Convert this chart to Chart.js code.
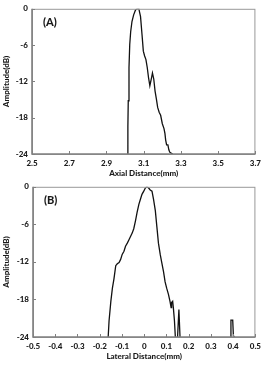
<!DOCTYPE html>
<html>
<head>
<meta charset="utf-8">
<script src="https://cdn.jsdelivr.net/npm/chart.js@4/dist/chart.umd.min.js"></script>
<style>
  body { margin: 0; background: #fff; }
  #wrap { position: relative; width: 266px; height: 372px; }
  canvas { position: absolute; left: 0; }
</style>
</head>
<body>
<div id="wrap">
  <canvas id="chartA" width="266" height="186" style="top:0"></canvas>
  <canvas id="chartB" width="266" height="194" style="top:178px"></canvas>
</div>
<script>
// (A) axial profile
const axialX  = [3.013, 3.015, 3.017, 3.021, 3.025, 3.030, 3.037, 3.046, 3.056, 3.065, 3.074, 3.083, 3.091, 3.098, 3.105, 3.112, 3.119, 3.126, 3.133, 3.142, 3.147, 3.154, 3.161, 3.168, 3.175, 3.183, 3.191, 3.200, 3.209, 3.214, 3.218, 3.223, 3.230, 3.235, 3.240, 3.249, 3.256];
const axialDb = [-24, -19.5, -15.2, -9.7, -5.9, -3.8, -2.1, -1.0, -0.2, 0, 0, -1.3, -4.3, -7.0, -7.8, -8.4, -9.7, -11.4, -12.7, -11.4, -10.6, -11.6, -13.6, -14.9, -16.3, -17.1, -17.6, -19.0, -19.8, -20.6, -21.7, -22.5, -22.5, -23.3, -23.7, -23.9, -24];

// (B) lateral profile (null = break in the trace)
const lateralX  = [-0.162, -0.158, -0.150, -0.143, -0.136, -0.128, -0.121, -0.113, -0.106, -0.099, -0.091, -0.084, -0.076, -0.069, -0.061, -0.054, -0.047, -0.039, -0.032, -0.024, -0.017, -0.010, -0.002, 0.005, 0.012, 0.020, 0.027, 0.035, 0.042, 0.050, 0.057, 0.064, 0.072, 0.079, 0.087, 0.094, 0.101, 0.109, 0.116, 0.121, 0.123, 0.128, 0.131, 0.136, 0.140, 0.145, 0.150, 0.156, 0.161, 0.300, 0.387, 0.390, 0.398, 0.401, 0.405];
const lateralDb = [-24, -21.4, -18.3, -16.2, -14.7, -12.6, -12.3, -12.1, -11.6, -10.8, -10.3, -9.5, -9.0, -8.5, -7.9, -7.4, -6.7, -5.4, -4.1, -2.8, -2.0, -1.2, -0.7, -0.2, 0, -0.2, -0.5, -0.7, -2.0, -3.8, -6.4, -9.0, -10.8, -12.1, -13.6, -15.2, -16.2, -17.2, -18.3, -19.3, -18.5, -18.3, -19.3, -21.4, -24, null, -24, -19.6, -24, null, -24, -21.3, -21.3, -23.8, -24];

const yTicks = [0, -6, -12, -18, -24];
const FONT = 'Lato, "Liberation Sans", sans-serif';
const TEXT = '#1a1a1a';

// box around plot, inward tick marks, panel letter
const framePlugin = {
    id: 'frame',
    afterDraw(chart, args, opts) {
        const {ctx, chartArea: a, scales} = chart;
        ctx.save();
        ctx.strokeStyle = '#999';
        ctx.lineWidth = 1;
        ctx.strokeRect(a.left + 0.5, a.top + 0.5, a.right - a.left - 1, a.bottom - a.top);
        ctx.strokeStyle = '#808080';
        ctx.lineWidth = 1.6;
        ctx.beginPath();
        ctx.moveTo(a.left, a.top);
        ctx.lineTo(a.left, a.bottom);
        ctx.lineTo(a.right, a.bottom);
        ctx.stroke();
        ctx.lineWidth = 1;
        ctx.beginPath();
        scales.x.ticks.forEach(t => {
            const px = Math.round(scales.x.getPixelForValue(t.value)) + 0.5;
            ctx.moveTo(px, a.bottom);
            ctx.lineTo(px, a.bottom - 3);
        });
        scales.y.ticks.forEach(t => {
            const py = Math.round(scales.y.getPixelForValue(t.value)) + 0.5;
            ctx.moveTo(a.left, py);
            ctx.lineTo(a.left + 3, py);
        });
        ctx.stroke();
        ctx.fillStyle = TEXT;
        ctx.font = '900 11px ' + FONT;
        ctx.textBaseline = 'alphabetic';
        ctx.fillText(opts.label, a.left + 11, a.top + 17);
        ctx.restore();
    }
};

function makeChart(id, xs, ys, xMin, xMax, step, xTitle, label, pad, yWidth, xHeight, titlePad) {
    const points = xs.map((x, i) => ({x: x, y: ys[i]}));
    const font = { family: FONT, size: 8, weight: '900' };
    return new Chart(document.getElementById(id), {
        type: 'line',
        data: {
            datasets: [{
                data: points,
                borderColor: '#111',
                borderWidth: 1.3,
                pointRadius: 0,
                tension: 0,
                spanGaps: false
            }]
        },
        options: {
            responsive: false,
            animation: false,
            layout: { padding: pad },
            scales: {
                x: {
                    type: 'linear',
                    min: xMin,
                    max: xMax,
                    grid: { display: false, drawTicks: false },
                    border: { display: false },
                    ticks: {
                        stepSize: step,
                        padding: 5,
                        maxRotation: 0,
                        autoSkip: false,
                        color: TEXT,
                        font: font,
                        callback: v => Math.abs(v) < 1e-9 ? '0' : v.toFixed(1)
                    },
                    title: {
                        display: true,
                        text: xTitle,
                        color: TEXT,
                        padding: { top: 0, bottom: titlePad },
                        font: font
                    },
                    afterFit: s => { s.height = xHeight; }
                },
                y: {
                    min: -24,
                    max: 0,
                    grid: { display: false, drawTicks: false },
                    border: { display: false },
                    afterBuildTicks: s => { s.ticks = yTicks.map(v => ({value: v})); },
                    ticks: {
                        padding: 4,
                        color: TEXT,
                        font: font
                    },
                    title: {
                        display: true,
                        text: 'Amplitude(dB)',
                        color: TEXT,
                        padding: { top: 2, bottom: 0 },
                        font: font
                    },
                    afterFit: s => { s.width = yWidth; }
                }
            },
            plugins: {
                legend: { display: false },
                tooltip: { enabled: false },
                frame: { label: label }
            }
        },
        plugins: [framePlugin]
    });
}

makeChart('chartA', axialX, axialDb, 2.5, 3.7, 0.2, 'Axial Distance(mm)', '(A)',
    {top: 7, right: 6, left: 0, bottom: 0}, 32, 32, 8);
makeChart('chartB', lateralX, lateralDb, -0.5, 0.5, 0.1, 'Lateral Distance(mm)', '(B)',
    {top: 4, right: 8, left: 0, bottom: 0}, 33, 35, 11);
</script>
</body>
</html>
